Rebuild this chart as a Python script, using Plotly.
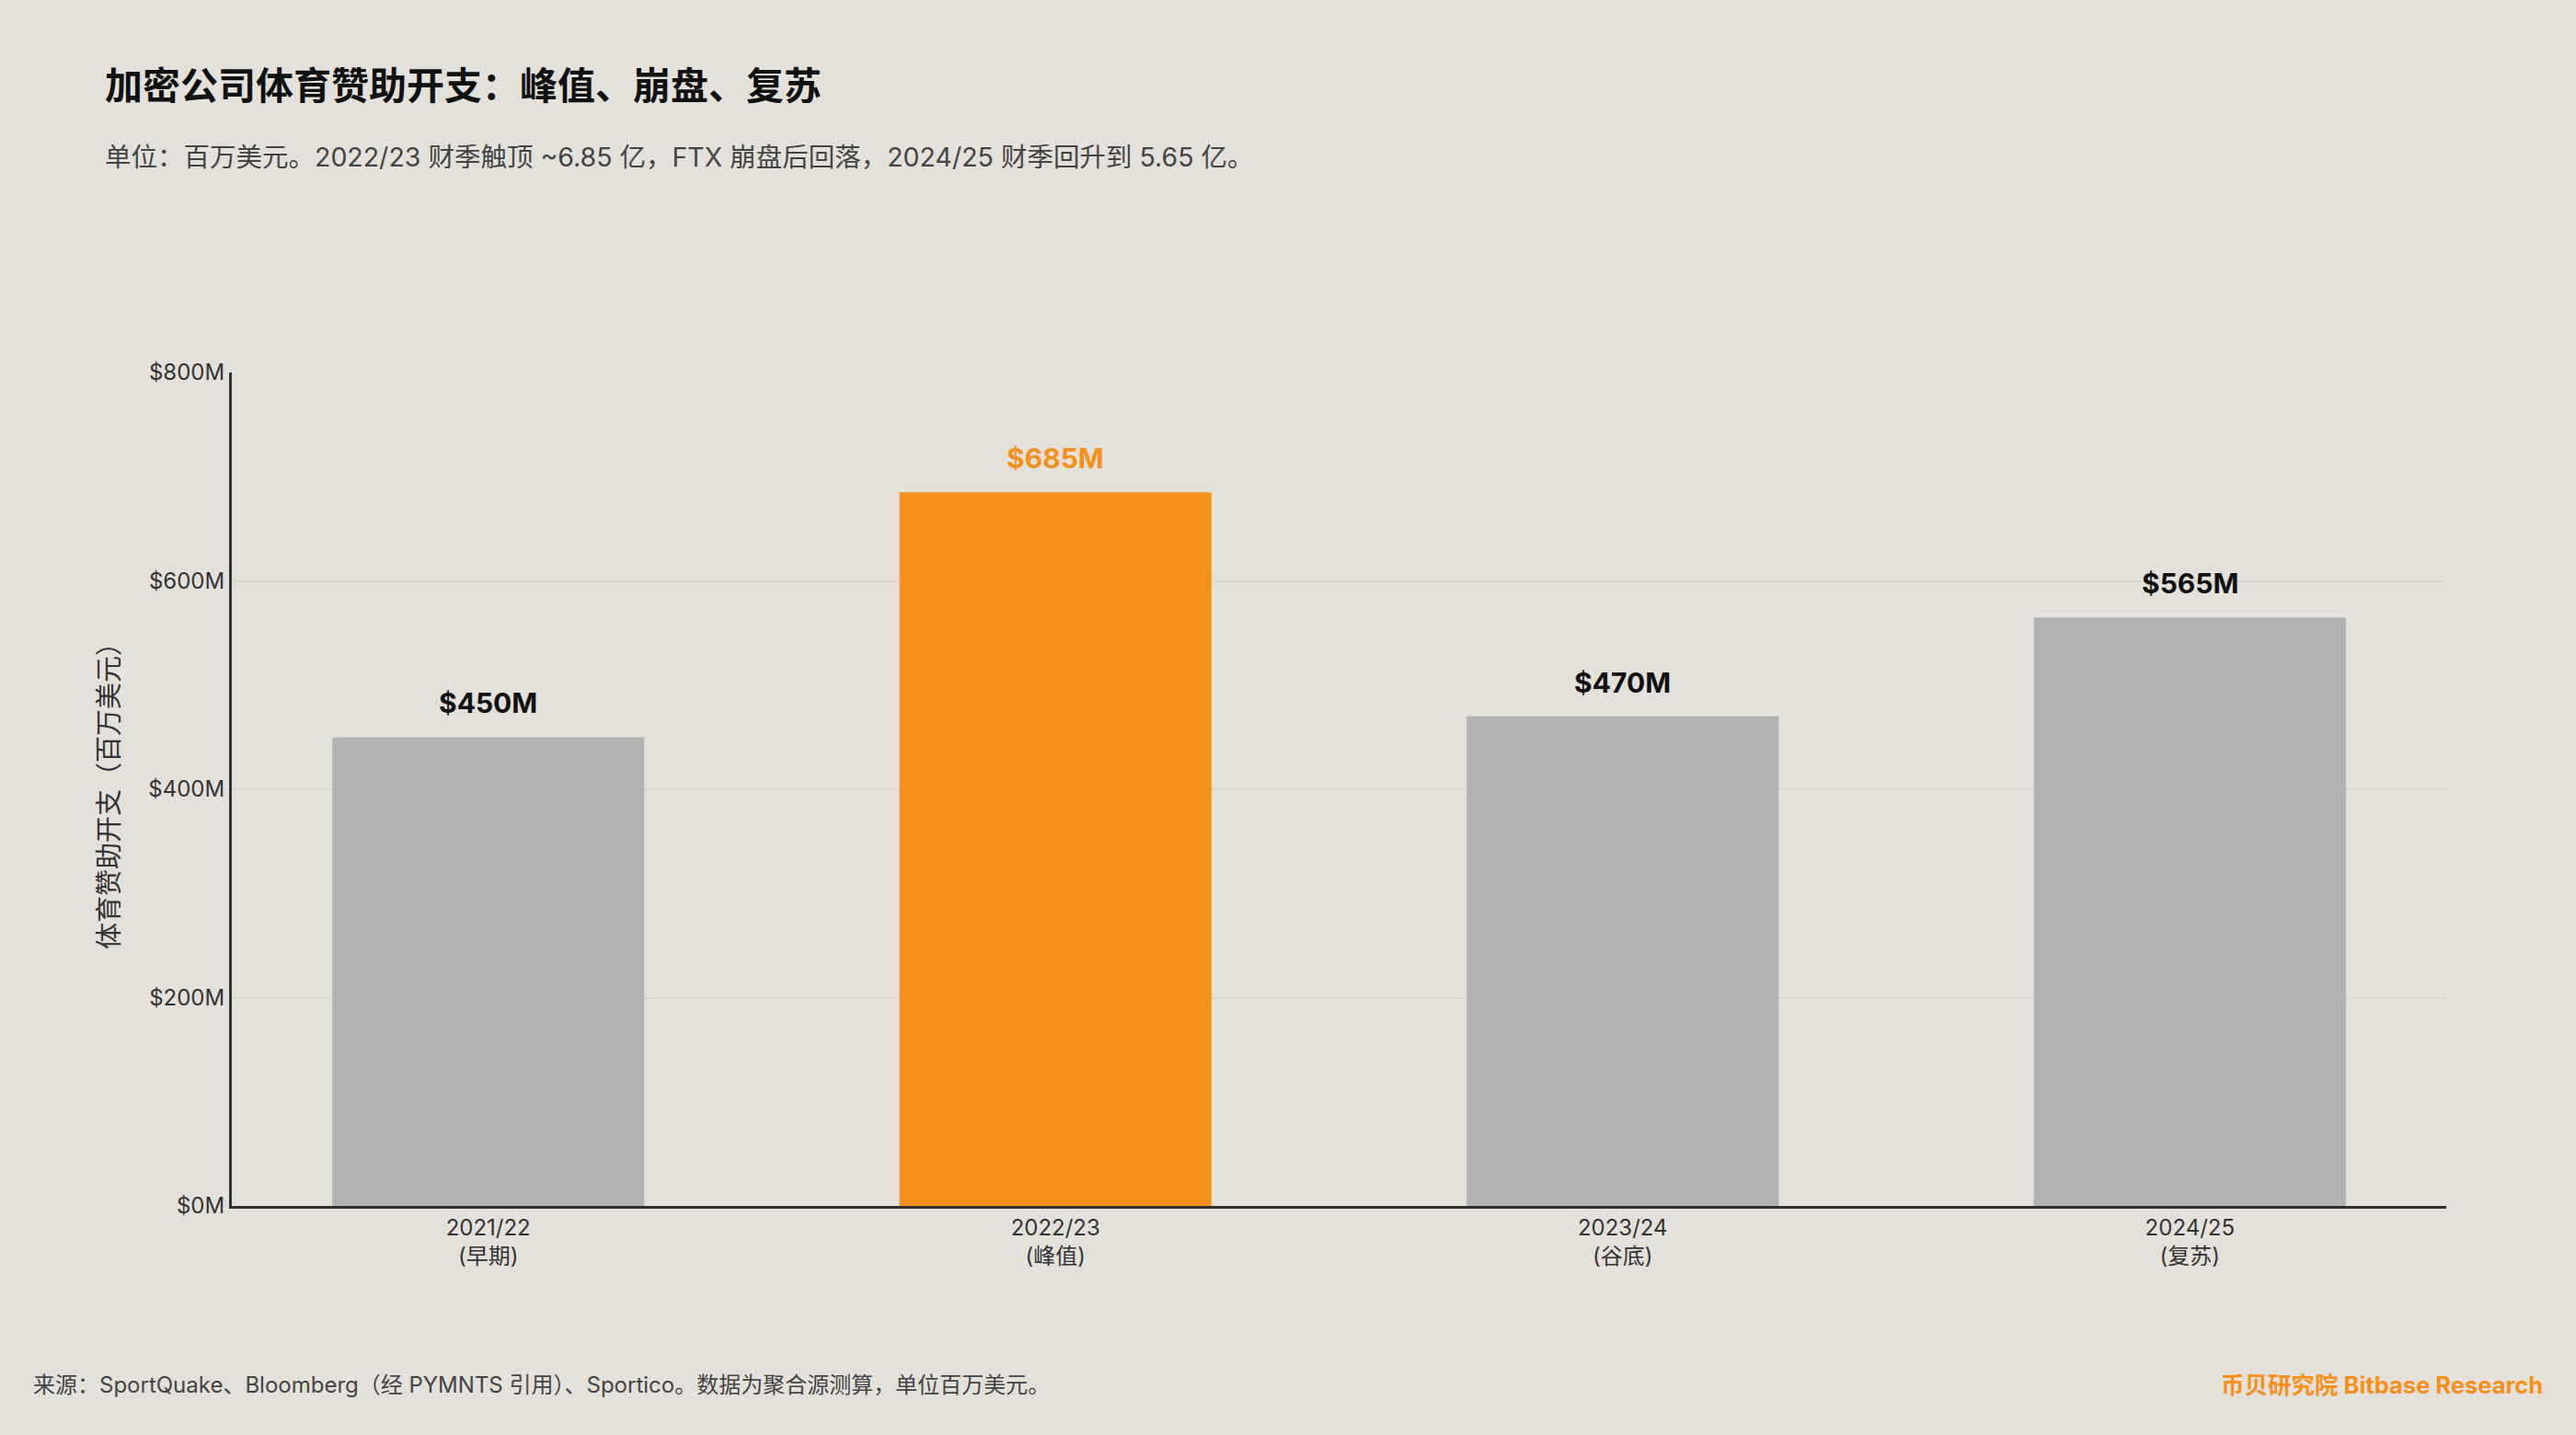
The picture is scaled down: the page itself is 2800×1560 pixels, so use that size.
import plotly.graph_objects as go

# data
seasons = ["2021/22<br>(早期)", "2022/23<br>(峰值)", "2023/24<br>(谷底)", "2024/25<br>(复苏)"]
spend = [450, 685, 470, 565]
labels = ["$450M", "$685M", "$470M", "$565M"]
highlight = [False, True, False, False]
y_ticks = [0, 200, 400, 600, 800]
y_tick_text = ["$0M", "$200M", "$400M", "$600M", "$800M"]

W, H = 2800, 1560
L, R, T, B = 252, 141, 405, 249
FONT = "Inter, Noto Sans CJK SC, sans-serif"
ORANGE = "#F5911A"
GRAY = "#B2B2B2"
BG = "#E4E0DA"


def px_x(x):
    return (x - L) / (W - L - R)


def px_y(y):
    return 1 - (y - T) / (H - T - B)


colors = [ORANGE if h else GRAY for h in highlight]

fig = go.Figure()
fig.add_trace(go.Bar(
    x=seasons,
    y=spend,
    marker=dict(color=colors, line=dict(width=0)),
    width=0.55,
    hoverinfo="skip",
))

ann = []
for s, v, lab, h in zip(seasons, spend, labels, highlight):
    ann.append(dict(
        x=s, y=v, xref="x", yref="y", text="<b>" + lab + "</b>",
        showarrow=False, yanchor="bottom", yshift=17,
        font=dict(size=30, color=ORANGE if h else "#111111", family=FONT),
    ))

ann += [
    dict(x=px_x(112), y=px_y(93), xref="paper", yref="paper", xanchor="left", yanchor="middle",
         text="<b>加密公司体育赞助开支：峰值、崩盘、复苏</b>", showarrow=False,
         font=dict(size=41, color="#111111", family=FONT)),
    dict(x=px_x(112), y=px_y(170), xref="paper", yref="paper", xanchor="left", yanchor="middle",
         text="单位：百万美元。2022/23 财季触顶 ~6.85 亿，FTX 崩盘后回落，2024/25 财季回升到 5.65 亿。",
         showarrow=False, font=dict(size=28.5, color="#444444", family=FONT)),
    dict(x=px_x(34), y=px_y(1505), xref="paper", yref="paper", xanchor="left", yanchor="middle",
         text="来源：SportQuake、Bloomberg（经 PYMNTS 引用）、Sportico。数据为聚合源测算，单位百万美元。",
         showarrow=False, font=dict(size=24, color="#444444", family=FONT)),
    dict(x=px_x(2766), y=px_y(1505), xref="paper", yref="paper", xanchor="right", yanchor="middle",
         text="<b>币贝研究院 Bitbase Research</b>",
         showarrow=False, font=dict(size=25.5, color=ORANGE, family=FONT)),
    dict(x=px_x(118), y=0.5, xref="paper", yref="paper", xanchor="center", yanchor="middle",
         text="体育赞助开支（百万美元）", textangle=-90,
         showarrow=False, font=dict(size=29, color="#333333", family=FONT)),
]

fig.update_layout(
    width=W, height=H,
    margin=dict(l=L, r=R, t=T, b=B, autoexpand=False),
    paper_bgcolor=BG, plot_bgcolor=BG,
    showlegend=False,
    font=dict(family=FONT, color="#333333"),
    annotations=ann,
    bargap=0.45,
)
fig.update_xaxes(
    range=[-0.452, 3.452],
    showline=True, linecolor="#333333", linewidth=3,
    showgrid=False, ticks="", tickfont=dict(size=24, color="#333333"),
    fixedrange=True,
)
fig.update_yaxes(
    range=[0, 800],
    tickvals=y_ticks, ticktext=y_tick_text,
    showline=True, linecolor="#333333", linewidth=3,
    showgrid=True, gridcolor="#D8D4CE", gridwidth=1.5,
    zeroline=False, ticks="", ticklen=0,
    tickfont=dict(size=24, color="#333333"),
    fixedrange=True,
)

fig.write_html("out.html", config={"displayModeBar": False},
               post_script="document.body.style.margin='0';")
